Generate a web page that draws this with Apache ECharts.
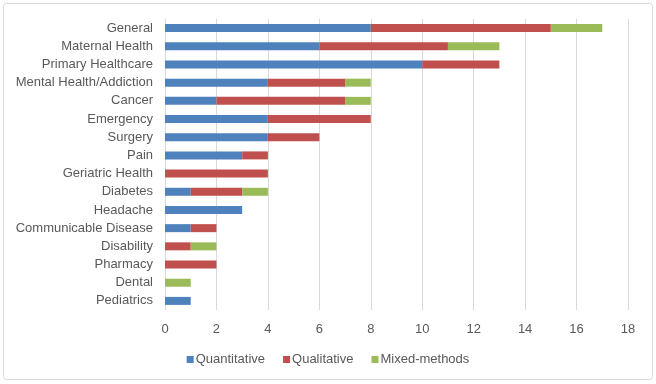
<!DOCTYPE html>
<html>
<head>
<meta charset="utf-8">
<script src="https://cdn.jsdelivr.net/npm/echarts@6/dist/echarts.min.js"></script>
<style>
  html, body { margin: 0; padding: 0; background: #fff; }
  #chart { width: 656px; height: 384px; }
</style>
</head>
<body>
<div id="chart"></div>
<script>
// categories, top to bottom as shown
var categories = ['General', 'Maternal Health', 'Primary Healthcare', 'Mental Health/Addiction',
  'Cancer', 'Emergency', 'Surgery', 'Pain', 'Geriatric Health', 'Diabetes', 'Headache',
  'Communicable Disease', 'Disability', 'Pharmacy', 'Dental', 'Pediatrics']
var quantitative = [8, 6, 10, 4, 2, 4, 4, 3, 0, 1, 3, 1, 0, 0, 0, 1]
var qualitative = [7, 5, 3, 3, 5, 4, 2, 1, 4, 2, 0, 1, 1, 2, 0, 0]
var mixedMethods = [2, 2, 0, 1, 1, 0, 0, 0, 0, 1, 0, 0, 1, 0, 1, 0]
var seriesNames = ['Quantitative', 'Qualitative', 'Mixed-methods']

var chart = echarts.init(document.getElementById('chart'))
var font = 'Liberation Sans, Arial, sans-serif'

function bar(name, data, color) {
  return {
    name: name,
    type: 'bar',
    stack: 'total',
    barWidth: 8,
    itemStyle: { color: color },
    data: data
  }
}

var option = {
  animation: false,
  textStyle: { fontFamily: font },
  graphic: [{
    type: 'rect',
    shape: { x: 3.5, y: 3.5, width: 649, height: 376, r: 3 },
    style: { fill: 'none', stroke: '#d9d9d9', lineWidth: 1 }
  }],
  grid: { left: 165, right: 28, top: 19, bottom: 74 },
  legend: {
    data: seriesNames,
    bottom: 13,
    left: 'center',
    itemWidth: 7,
    itemHeight: 7,
    itemGap: 18,
    icon: 'rect',
    textStyle: { color: '#595959', fontSize: 13, fontFamily: font, padding: [0, 0, 0, -3] }
  },
  xAxis: {
    type: 'value',
    min: 0,
    max: 18,
    interval: 2,
    axisLine: { show: false },
    axisTick: { show: false },
    axisLabel: { color: '#595959', fontSize: 13, margin: 13 },
    splitLine: { lineStyle: { color: '#d9d9d9' } }
  },
  yAxis: {
    type: 'category',
    inverse: true,
    data: categories,
    axisLine: { lineStyle: { color: '#d9d9d9' } },
    axisTick: { show: false },
    axisLabel: { color: '#595959', fontSize: 13, margin: 12 }
  },
  series: [
    bar(seriesNames[0], quantitative, '#4f81bd'),
    bar(seriesNames[1], qualitative, '#c0504d'),
    bar(seriesNames[2], mixedMethods, '#9bbb59')
  ]
}
chart.setOption(option)
</script>
</body>
</html>
